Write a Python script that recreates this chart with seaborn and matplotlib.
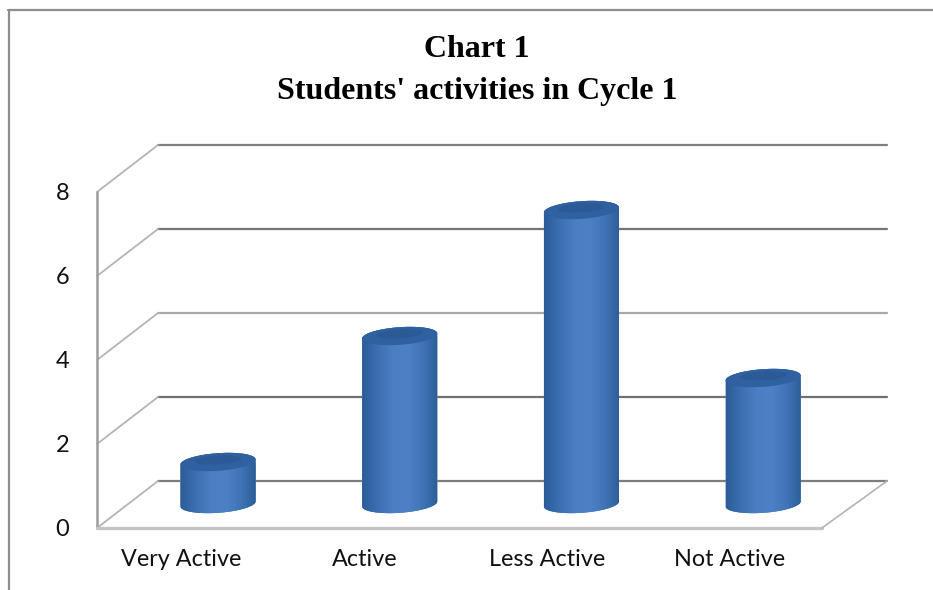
import matplotlib
matplotlib.use("Agg")
import matplotlib.pyplot as plt
import numpy as np
import seaborn as sns
from matplotlib.colors import LinearSegmentedColormap
from matplotlib.lines import Line2D
from matplotlib.patches import Polygon

categories = ["Very Active", "Active", "Less Active", "Not Active"]
values = [1, 4, 7, 3]
y_ticks = [0, 2, 4, 6, 8]
title = "Chart 1\nStudents' activities in Cycle 1"

# 3d look: the bars sit on a plane between the front and back walls
FRONT_DROP = 0.571
BACK_RISE = 0.548
LEFT_FRONT, LEFT_BACK = -0.666, -0.330
RIGHT_FRONT, RIGHT_BACK = 3.324, 3.682
BAR_WIDTH = 0.413
CAP_HALF = 0.21
CAP_SKEW = 0.06

sns.set_theme(style="white")
plt.rcParams["font.family"] = ["Lato", "DejaVu Sans"]

fig = plt.figure(figsize=(9.33, 5.9), dpi=100)
ax = fig.add_axes([97 / 933, 60 / 590, 790 / 933, 390 / 590])

sns.barplot(x=categories, y=values, color="#3a6eae", width=BAR_WIDTH, saturation=1, ax=ax, zorder=3)

shade = LinearSegmentedColormap.from_list(
    "cyl", ["#2c5c98", "#3a6fb0", "#4a80c3", "#4c82c5", "#3f75b7", "#2d5d98"]
)
gradient = np.linspace(0, 1, 128).reshape(1, -1)
t = np.linspace(0, 2 * np.pi, 100)

for bar in list(ax.patches):
    x0, w, h = bar.get_x(), bar.get_width(), bar.get_height()
    cx = x0 + w / 2
    ex = cx + w / 2 * np.cos(t)
    top_y = h + CAP_HALF * np.sin(t) + CAP_SKEW * np.cos(t)
    base_y = CAP_HALF * np.sin(t) + CAP_SKEW * np.cos(t)
    upper = t <= np.pi
    lower = t >= np.pi
    outline = np.vstack(
        [
            np.column_stack([ex[upper], top_y[upper]]),
            np.column_stack([ex[lower], base_y[lower]]),
        ]
    )
    body = Polygon(outline, closed=True, facecolor="#3a6eae", edgecolor="none", zorder=3, transform=ax.transData)
    ax.add_patch(body)
    bar.set_clip_path(body)
    img = ax.imshow(
        gradient,
        cmap=shade,
        aspect="auto",
        extent=(x0, x0 + w, -1, h + 1),
        zorder=4,
    )
    img.set_clip_path(body)
    ax.fill(ex, top_y, color="#2f60a0", lw=0, zorder=5)
    ax.fill(
        cx + 0.62 * (ex - cx),
        h + 0.05 + 0.5 * (top_y - h),
        color="#2c5a97",
        lw=0,
        zorder=5,
    )

# walls and gridlines, worked out from the y ticks
grid_colors = ["#7d7d7d", "#707070", "#a8a8a8", "#757575", "#808080"]
for tick, color in zip(y_ticks, grid_colors):
    back = tick + BACK_RISE
    ax.plot([LEFT_BACK, RIGHT_BACK], [back, back], color=color, lw=1.6, zorder=1, clip_on=False)
    ax.plot(
        [LEFT_FRONT, LEFT_BACK], [tick - FRONT_DROP, back],
        color="#b4b4b4", lw=1.3, zorder=1, clip_on=False,
    )
ax.plot(
    [LEFT_FRONT, LEFT_FRONT], [-FRONT_DROP, y_ticks[-1] - FRONT_DROP],
    color="#9c9c9c", lw=1.8, zorder=1, clip_on=False,
)
ax.plot(
    [LEFT_FRONT, RIGHT_FRONT], [-FRONT_DROP, -FRONT_DROP],
    color="#c4c4c4", lw=2.4, zorder=1, clip_on=False,
)
ax.plot(
    [RIGHT_FRONT, RIGHT_BACK], [-FRONT_DROP, BACK_RISE],
    color="#b4b4b4", lw=1.2, zorder=1, clip_on=False,
)

ax.set_xlim(LEFT_FRONT, RIGHT_BACK)
ax.set_ylim(-0.619, 8.667)
ax.set_xticks(np.arange(len(categories)) * 1.005 - 0.2, labels=categories)
ax.set_yticks(np.array(y_ticks) - FRONT_DROP, labels=[str(v) for v in y_ticks])
ax.tick_params(axis="x", length=0, pad=14, labelsize=16.8, labelcolor="#111111")
ax.tick_params(axis="y", length=0, pad=20, labelsize=17, labelcolor="#111111")
ax.set_xlabel("")
ax.set_ylabel("")
ax.patch.set_visible(False)
sns.despine(ax=ax, left=True, bottom=True)

fig.text(
    477 / 933, 1 - 70.5 / 590, title, ha="center", va="center",
    family="Liberation Serif", fontweight="bold", fontsize=23, color="black", linespacing=1.55,
)

# outer chart frame runs off the right and bottom of the image
frame = "#8e8e8e"
fig.add_artist(Line2D([8.5 / 933, 8.5 / 933], [0, 1 - 10 / 590], color=frame, lw=1.6))
fig.add_artist(Line2D([8 / 933, 1], [1 - 10 / 590, 1 - 10 / 590], color=frame, lw=1.6))

fig.savefig("out.png", dpi=100)
plt.close(fig)
